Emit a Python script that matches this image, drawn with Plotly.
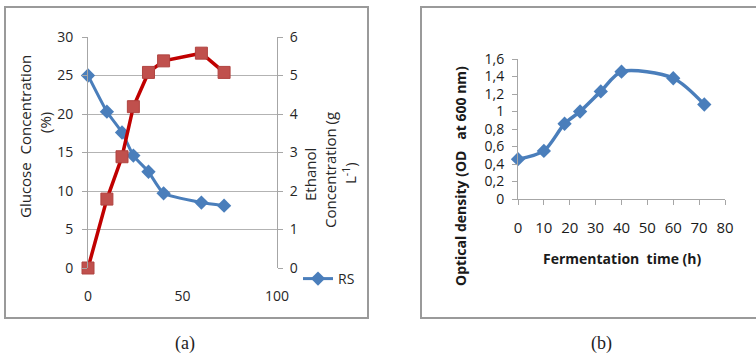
import plotly.graph_objects as go

W, H = 756, 356
def px(x): return x / W
def py(y): return 1 - y / H

# Data panel (a)
time_a = [0, 10, 18, 24, 32, 40, 60, 72]
rs_glucose = [25, 20.3, 17.6, 14.6, 12.5, 9.7, 8.5, 8.1]
ethanol = [0, 1.79, 2.89, 4.19, 5.08, 5.38, 5.58, 5.08]
# Data panel (b)
time_b = [0, 10, 18, 24, 32, 40, 60, 72]
od600 = [0.455, 0.55, 0.86, 1.0, 1.23, 1.455, 1.38, 1.08]

BLUE = "#4A7EBB"
RED_LINE = "#C00000"
RED_MARK = "#C0504D"
GRID = "#B3B3B3"
AXIS = "#A6A6A6"
FONT = "Open Sans"

fig = go.Figure()

fig.add_trace(go.Scatter(
    x=time_a, y=rs_glucose, name="RS", mode="lines+markers", cliponaxis=False,
    line=dict(color=BLUE, width=3, shape="spline", smoothing=0.5),
    marker=dict(symbol="diamond", size=11, color=BLUE),
    xaxis="x", yaxis="y"))
fig.add_trace(go.Scatter(
    x=time_a, y=ethanol, name="Ethanol", mode="lines+markers", showlegend=False,
    cliponaxis=False,
    line=dict(color=RED_LINE, width=3.5),
    marker=dict(symbol="square", size=12, color=RED_MARK,
                line=dict(color="#B04440", width=1)),
    xaxis="x", yaxis="y2"))
fig.add_trace(go.Scatter(
    x=time_b, y=od600, name="OD", mode="lines+markers", showlegend=False,
    cliponaxis=False,
    line=dict(color=BLUE, width=3.5, shape="spline", smoothing=0.8),
    marker=dict(symbol="diamond", size=11, color=BLUE),
    xaxis="x2", yaxis="y3"))

tickfont_a = dict(family=FONT, size=14, color="#262626")
tickfont_b = dict(family=FONT, size=14, color="#1a1a1a")

fig.update_layout(
    width=W, height=H, margin=dict(l=0, r=0, t=0, b=0, autoexpand=False),
    paper_bgcolor="white", plot_bgcolor="rgba(0,0,0,0)",
    separators=",.",
    showlegend=True,
    legend=dict(x=px(298), y=py(279), xanchor="left", yanchor="middle",
                bgcolor="rgba(0,0,0,0)", font=dict(family=FONT, size=14, color="#262626"),
                borderwidth=0),
    xaxis=dict(domain=[px(88), px(277)], range=[0, 100], dtick=50, tick0=0,
               showgrid=False, zeroline=False, showline=False, ticks="",
               tickfont=tickfont_a, ticklabelstandoff=18, anchor="y", automargin=False),
    yaxis=dict(domain=[py(268), py(37)], range=[0, 30], dtick=5, tick0=0,
               showgrid=True, gridcolor=GRID, gridwidth=1, zeroline=False,
               showline=True, linecolor=AXIS, linewidth=1,
               ticks="outside", ticklen=5, tickcolor=AXIS,
               tickfont=tickfont_a, ticklabelstandoff=6, anchor="x", automargin=False),
    yaxis2=dict(range=[0, 6], dtick=1, tick0=0, overlaying="y", side="right",
                showgrid=False, zeroline=False, showline=True, linecolor=AXIS, linewidth=1,
                ticks="outside", ticklen=5, tickcolor=AXIS,
                tickfont=tickfont_a, ticklabelstandoff=4, anchor="x", automargin=False),
    xaxis2=dict(domain=[px(518), px(725)], range=[0, 80], dtick=10, tick0=0,
                showgrid=False, zeroline=False, showline=True, linecolor=AXIS, linewidth=1,
                ticks="outside", ticklen=5, tickcolor=AXIS,
                tickfont=dict(family=FONT, size=15, color="#1a1a1a"),
                ticklabelstandoff=10, anchor="y3", automargin=False),
    yaxis3=dict(domain=[py(199), py(59)], range=[0, 1.6], dtick=0.2, tick0=0,
                showgrid=False, zeroline=False, showline=True, linecolor=AXIS, linewidth=1,
                ticks="outside", ticklen=5, tickcolor=AXIS,
                tickfont=tickfont_b, ticklabelstandoff=5, anchor="x2", automargin=False),
)

# Panel borders
for x0, x1 in [(5, 368), (421, 770)]:
    fig.add_shape(type="rect", xref="paper", yref="paper",
                  x0=px(x0), x1=px(x1), y0=py(318), y1=py(7),
                  line=dict(color="#9A9A9A", width=2), fillcolor="rgba(0,0,0,0)",
                  layer="below")

def ann(text, x, y, size, angle=0, bold=False, family=FONT, color="#262626"):
    fig.add_annotation(text=("<b>%s</b>" % text) if bold else text,
                       x=px(x), y=py(y), xref="paper", yref="paper",
                       showarrow=False, textangle=angle,
                       font=dict(family=family, size=size, color=color),
                       xanchor="center", yanchor="middle")

# Axis titles panel (a)
ann("Glucose  Concentration", 25, 137, 15, angle=-90)
ann("(%)", 45, 123, 15, angle=-90)
ann("Ethanol", 310, 175, 15, angle=-90)
ann("Concentration (g", 330, 170, 15, angle=-90)
ann("L<sup>-1</sup>)", 349, 173, 15, angle=-90)

# Axis titles panel (b)
ann("Fermentation  time (h)", 622, 258, 14, bold=True, color="#1a1a1a")
ann("Optical density (OD   at 600 nm)", 460, 176, 14, angle=-90, bold=True, color="#1a1a1a")

# Captions
ann("(a)", 185, 343, 18, family="Liberation Serif", color="#222222")
ann("(b)", 601, 343, 18, family="Liberation Serif", color="#222222")

fig.write_html("out.html", config={"displayModeBar": False},
               post_script="document.body.style.margin='0';")
